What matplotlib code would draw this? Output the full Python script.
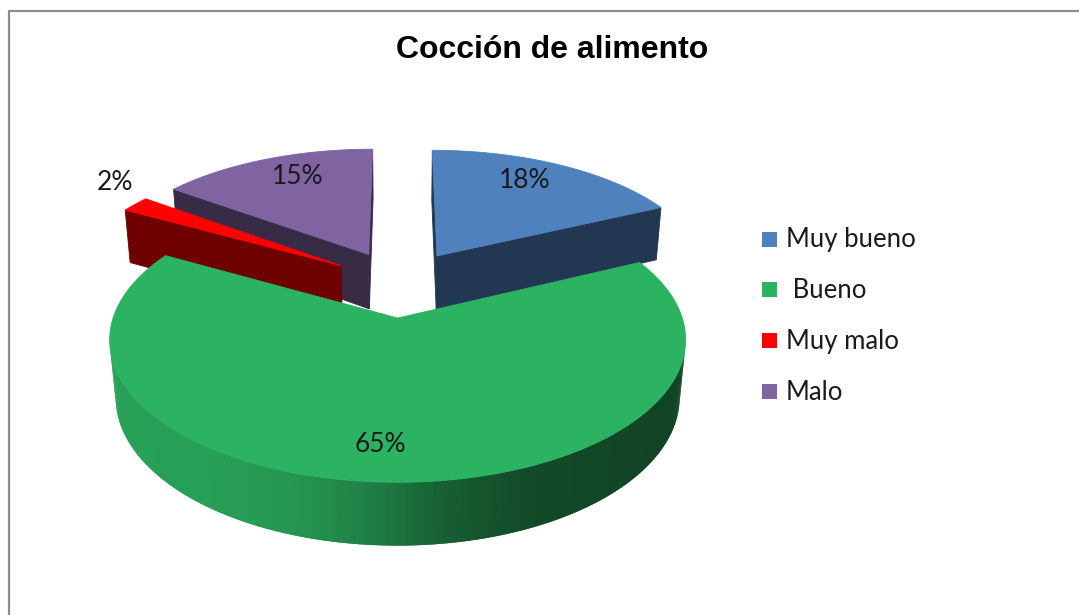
import numpy as np
import matplotlib.pyplot as plt
from matplotlib.patches import Polygon, Rectangle
from matplotlib.colors import to_rgb

# survey results
categories = ["Muy bueno", " Bueno", "Muy malo", "Malo"]
values = [18, 65, 2, 15]
colors = ["#4f81bd", "#2cb361", "#ff0000", "#8064a2"]
labels = [f"{v}%" for v in values]
label_pos = [(525, 180), (380, 445), (115, 183), (298, 176)]

# 3D view of the pie (radius 1, viewed from the front and above)
TILT = np.radians(30)
DIST = 6.0
FOCAL = 1610
CX, CY = 400, 339
HEIGHT = 0.235
EXPLODE = 0.26
CAM = np.array([0.0, -DIST * np.cos(TILT), DIST * np.sin(TILT)])


def project(pts):
    pts = np.asarray(pts, dtype=float)
    x, y, z = pts[:, 0], pts[:, 1], pts[:, 2]
    dep = DIST + y * np.cos(TILT) - z * np.sin(TILT)
    sx = CX + FOCAL * x / dep
    sy = CY - FOCAL * (y * np.sin(TILT) + z * np.cos(TILT)) / dep
    return np.column_stack([sx, sy])


def facing(normal, pts):
    mid = np.mean(np.asarray(pts, dtype=float), axis=0)
    return np.dot(normal, CAM - mid) > 0


def shade(color, f):
    return tuple(np.clip(np.array(to_rgb(color)) * f, 0, 1))


def wall_light(nx):
    # lit from the left, dark on the right
    return 0.64 - 0.26 * np.tanh(3 * nx) / np.tanh(3)


def face(ax, pts, color, z, lw=0.6):
    ax.add_patch(Polygon(project(pts), closed=True, facecolor=color,
                         edgecolor=color if lw else "none", lw=lw, zorder=z))


fig = plt.figure(figsize=(10.79, 6.15), dpi=100)
ax = fig.add_axes([0, 0, 1, 1])
ax.set_xlim(0, 1079)
ax.set_ylim(615, 0)
ax.axis("off")

# chart frame
ax.plot([9, 9, 1079], [615, 11, 11], color="#8c8c8c", lw=1.6, zorder=1)

# slice angles, clockwise from the back
total = sum(values)
bounds = np.concatenate([[0], np.cumsum(values)]) * 360.0 / total
slices = []
for i in range(len(values)):
    a0, a1 = bounds[i], bounds[i + 1]
    mid = np.radians((a0 + a1) / 2)
    slices.append((np.cos(mid), i, a0, a1, mid))
slices.sort(reverse=True)  # far slices first

z = 2
for _, i, a0, a1, mid in slices:
    ox, oy = EXPLODE * np.sin(mid), EXPLODE * np.cos(mid)
    n = max(4, int((a1 - a0) * 1.5))
    th = np.radians(np.linspace(a0, a1, n))
    rx, ry = ox + np.sin(th), oy + np.cos(th)
    col = colors[i]

    # radial cut faces
    for ang, t in ((a0 - 90, th[0]), (a1 + 90, th[-1])):
        nrm = np.array([np.sin(np.radians(ang)), np.cos(np.radians(ang)), 0])
        ex, ey = ox + np.sin(t), oy + np.cos(t)
        pts = [(ox, oy, 0), (ox, oy, HEIGHT), (ex, ey, HEIGHT), (ex, ey, 0)]
        if facing(nrm, pts):
            face(ax, pts, shade(col, 0.43), z)

    # outer wall, each strip overlapping the next to hide seams
    for k in range(n - 1):
        tm = (th[k] + th[k + 1]) / 2
        nrm = np.array([np.sin(tm), np.cos(tm), 0])
        k2 = min(k + 2, n - 1)
        pts = [(rx[k], ry[k], 0), (rx[k], ry[k], HEIGHT),
               (rx[k2], ry[k2], HEIGHT), (rx[k2], ry[k2], 0)]
        if facing(nrm, pts[:2] + [(rx[k + 1], ry[k + 1], 0)]):
            face(ax, pts, shade(col, wall_light(np.sin(tm))), z, lw=0)

    # top
    top = [(ox, oy, HEIGHT)] + [(x, y, HEIGHT) for x, y in zip(rx, ry)]
    face(ax, top, col, z + 0.5)
    z += 1

for txt, (lx, ly) in zip(labels, label_pos):
    ax.text(lx, ly, txt, ha="center", va="center", fontsize=19,
            family="Lato", color="#1a1a1a", zorder=20)

ax.text(552, 50, "Cocción de alimento", ha="center", va="center",
        fontsize=23, fontweight="bold", family="Liberation Sans", zorder=20)

# legend
for k, (name, col) in enumerate(zip(categories, colors)):
    y = 239 + k * 50.7
    ax.add_patch(Rectangle((762, y - 7.5), 15, 15, facecolor=col,
                           edgecolor="none", zorder=20))
    ax.text(786, y + 1, name, ha="left", va="center", fontsize=18.5,
            family="Lato", color="#1a1a1a", zorder=20)

fig.savefig("out.png", dpi=100)
